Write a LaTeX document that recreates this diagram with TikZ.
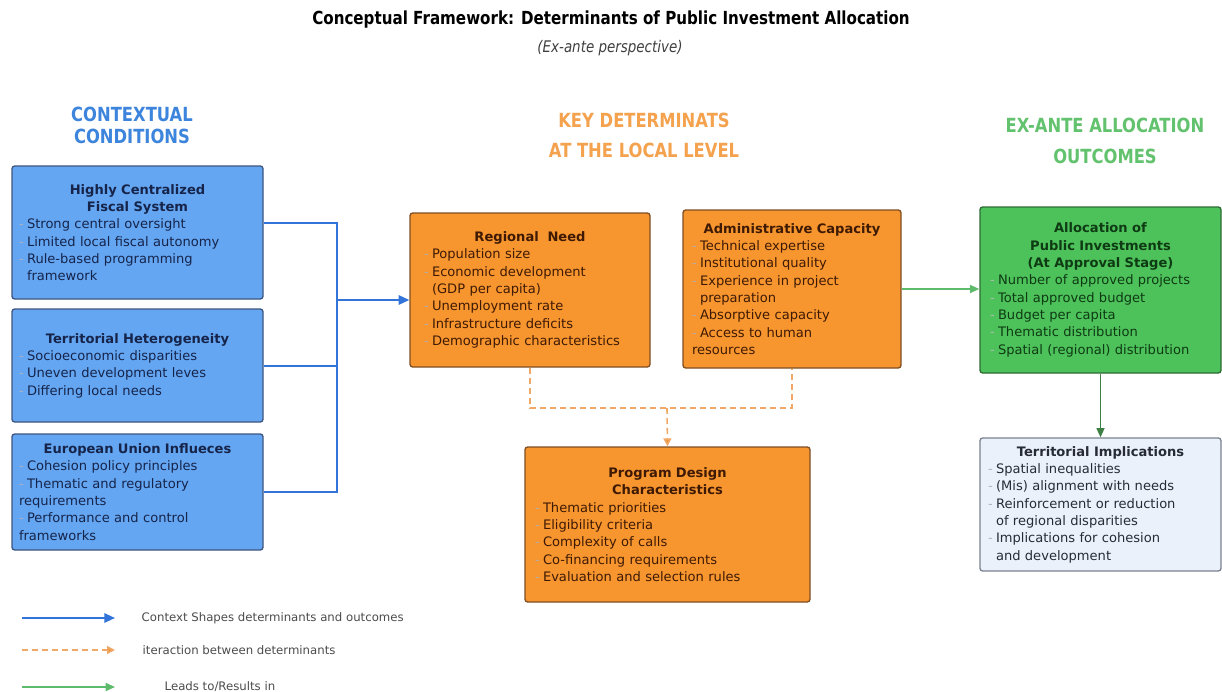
\documentclass[tikz,border=0pt]{standalone}
\usepackage{fontspec}
\setmainfont{DejaVu Sans}
\newfontfamily\condfont[FakeStretch=0.84]{DejaVu Sans}
\usepackage{xcolor}
\usetikzlibrary{arrows.meta}
\definecolor{cfblue}{HTML}{64A6F2}
\definecolor{cfblueline}{HTML}{3E5680}
\definecolor{cfbluetext}{HTML}{16244A}
\definecolor{cforange}{HTML}{F7952F}
\definecolor{cforangeline}{HTML}{7E4F24}
\definecolor{cforangetext}{HTML}{3E1A04}
\definecolor{cfgreen}{HTML}{4DC25A}
\definecolor{cfgreenline}{HTML}{2E6B35}
\definecolor{cfgreentext}{HTML}{0E3A14}
\definecolor{cfpale}{HTML}{EBF1FA}
\definecolor{cfpaleline}{HTML}{7A8190}
\definecolor{cfpaletext}{HTML}{262B36}
\definecolor{cflink}{HTML}{3274D9}
\definecolor{cfdash}{HTML}{F0A868}
\definecolor{cfdashtip}{HTML}{EE9636}
\definecolor{cfres}{HTML}{5DBB6B}
\definecolor{cfresdark}{HTML}{3E7F45}
\definecolor{cfhdblue}{HTML}{3D85DC}
\definecolor{cfhdorange}{HTML}{F5A24E}
\definecolor{cfhdgreen}{HTML}{62C26E}
\newlength{\pxu}\setlength{\pxu}{0.75pt}
\newcommand{\hd}[1]{\hspace*{\fill}\textbf{#1}\hspace*{\fill}\null}
\newcommand{\itm}{\makebox[6pt][l]{\textcolor{.!35!white}{-}}}
\newcommand{\itmc}{\hspace*{6pt}}

\begin{document}
\begin{tikzpicture}[
  x=0.75pt, y=-0.75pt,
  box/.style={draw, rounded corners=2pt, line width=1pt, align=left,
              inner ysep=0pt, font=\fontsize{9.8}{13}\selectfont},
  ctx/.style={box, fill=cfblue, draw=cfblueline, text=cfbluetext,
              inner xsep=7\pxu, text width=237\pxu},
  det/.style={box, fill=cforange, draw=cforangeline, text=cforangetext},
  outc/.style={box, fill=cfgreen, draw=cfgreenline, text=cfgreentext,
               inner xsep=10\pxu, text width=221\pxu},
  impl/.style={box, fill=cfpale, draw=cfpaleline, text=cfpaletext,
               inner xsep=8\pxu, text width=225\pxu},
  hdr/.style={align=center, font=\condfont\bfseries\fontsize{14.6}{17}\selectfont},
  ctxline/.style={draw=cflink, line width=1.5pt},
  mixline/.style={draw=cfdash, line width=1.2pt, dash pattern=on 4.5pt off 3pt},
  resline/.style={draw=cfres, line width=1.2pt},
  keytext/.style={anchor=west, text=black!70, font=\fontsize{8.8}{10}\selectfont},
  >={Triangle[length=8pt, width=7pt]}]

\useasboundingbox[fill=white] (0,0) rectangle (1222,692);

% ---------------- Title ----------------
\node[font=\condfont\bfseries\fontsize{13.5}{16}\selectfont] (ttl) at (611,20)
  {Conceptual Framework: Determinants of Public Investment Allocation};
\node[font=\condfont\itshape\fontsize{12}{14}\selectfont, text=black!75] (sub)
  at (610,48) {(Ex-ante perspective)};

% ---------------- Column headers ----------------
\node[hdr, text=cfhdblue] (hctx) at (132,125.5) {CONTEXTUAL\\CONDITIONS};
\node[hdr, text=cfhdorange] (hdet) at (644,135.5)
  {KEY DETERMINATS\\[6pt]AT THE LOCAL LEVEL};
\node[hdr, text=cfhdgreen] (hres) at (1105,141)
  {EX-ANTE ALLOCATION\\[6pt]OUTCOMES};

% ---------------- Contextual conditions ----------------
\node[ctx, minimum height=133\pxu] (fisc) at (137.5,232.5)
  {\hd{Highly Centralized}\\ \hd{Fiscal System}\\
   \itm Strong central oversight\\ \itm Limited local fiscal autonomy\\
   \itm Rule-based programming\\ \itmc framework};
\node[ctx, minimum height=113\pxu] (terr) at (137.5,365.5)
  {\hd{Territorial Heterogeneity}\\
   \itm Socioeconomic disparities\\ \itm Uneven development leves\\
   \itm Differing local needs};
\node[ctx, minimum height=116\pxu] (eu) at (137.5,492)
  {\hd{European Union Influeces}\\
   \itm Cohesion policy principles\\ \itm Thematic and regulatory\\
   requirements\\ \itm Performance and control\\ frameworks};

% ---------------- Key determinants ----------------
\node[det, inner xsep=14\pxu, text width=212\pxu, minimum height=154\pxu]
  (need) at (530,290)
  {\hd{Regional\ \ Need}\\
   \itm Population size\\ \itm Economic development\\ \itmc (GDP per capita)\\
   \itm Unemployment rate\\ \itm Infrastructure deficits\\
   \itm Demographic characteristics};
\node[det, inner xsep=9\pxu, text width=200\pxu, minimum height=158\pxu]
  (adm) at (792,289)
  {\hd{Administrative Capacity}\\
   \itm Technical expertise\\ \itm Institutional quality\\
   \itm Experience in project\\ \itmc preparation\\
   \itm Absorptive capacity\\ \itm Access to human\\ resources};
\node[det, inner xsep=10\pxu, text width=265\pxu, minimum height=155\pxu]
  (prog) at (667.5,524.5)
  {\hd{Program Design}\\ \hd{Characteristics}\\
   \itm Thematic priorities\\ \itm Eligibility criteria\\
   \itm Complexity of calls\\ \itm Co-financing requirements\\
   \itm Evaluation and selection rules};

% ---------------- Outcomes ----------------
\node[outc, minimum height=166\pxu] (alloc) at (1100.5,290)
  {\hd{Allocation of}\\ \hd{Public Investments}\\ \hd{(At Approval Stage)}\\
   \itm Number of approved projects\\ \itm Total approved budget\\
   \itm Budget per capita\\ \itm Thematic distribution\\
   \itm Spatial (regional) distribution};
\node[impl, minimum height=133\pxu] (terimp) at (1100.5,504.5)
  {\hd{Territorial Implications}\\
   \itm Spatial inequalities\\ \itm (Mis) alignment with needs\\
   \itm Reinforcement or reduction\\ \itmc of regional disparities\\
   \itm Implications for cohesion\\ \itmc and development};

% ---------------- Connectors ----------------
\coordinate (bus) at (337,300);
\draw[ctxline] ([yshift=7pt]fisc.east) -| (bus);
\foreach \c in {terr,eu}{
  \draw[ctxline] (\c.east) -| (bus);}
\draw[ctxline, ->] (bus) -- (bus -| need.west);

\coordinate (mix) at (667,408);
\draw[mixline] (need.south) |- (mix) -| (adm.south);
\draw[mixline, -{Triangle[length=6pt, width=6pt, fill=cfdashtip]}]
  (mix) -- (prog.north);

\draw[resline, -{Triangle[length=7pt, width=6pt]}]
  (adm.east) -- (adm.east -| alloc.west);
\draw[resline, draw=cfresdark, -{Triangle[length=7pt, width=6pt]}]
  (alloc.south) -- (terimp.north);

% ---------------- Legend ----------------
\coordinate (k1a) at (22,618);  \coordinate (k1b) at (115,618);
\coordinate (k2a) at (22,650);  \coordinate (k2b) at (115,650);
\coordinate (k3a) at (22,687);  \coordinate (k3b) at (115,687);
\draw[ctxline, ->] (k1a) -- (k1b);
\draw[mixline, -{Triangle[length=6pt, width=6pt, fill=cfdashtip]}] (k2a) -- (k2b);
\draw[resline, -{Triangle[length=7pt, width=6pt]}] (k3a) -- (k3b);
\node[keytext] (kt1) at (137,618) {Context Shapes determinants and outcomes};
\node[keytext] (kt2) at (138,650) {iteraction between determinants};
\node[keytext] (kt3) at (160,687) {Leads to/Results in};
\end{tikzpicture}
\end{document}
